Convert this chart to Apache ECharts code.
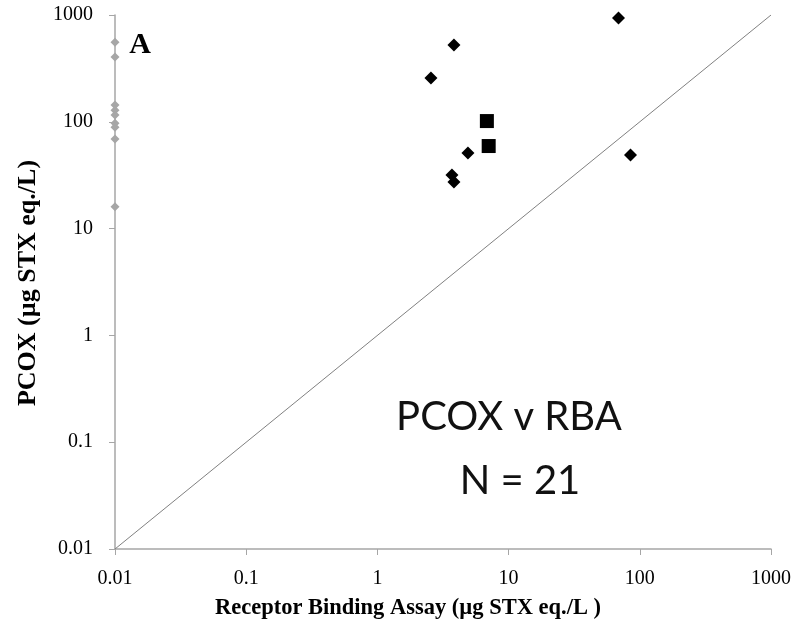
<!DOCTYPE html>
<html><head><meta charset="utf-8">
<script src="https://cdn.jsdelivr.net/npm/echarts@6/dist/echarts.min.js"></script>
<style>html,body{margin:0;padding:0;background:#fff}#c{width:794px;height:634px}</style>
</head><body><div id="c"></div>
<script>
const tickLabels = ['0.01','0.1','1','10','100','1000'];
const grayX = [0.01,0.01,0.01,0.01,0.01,0.01,0.01,0.01,0.01];
const grayY = [555,404,144,128,116,97,89,69,16];
const diamondX = [68.8,3.83,2.56,4.9,3.7,3.83,84.9];
const diamondY = [937,524,257,51,31.8,27.3,48.9];
const squareX = [6.83,7.05];
const squareY = [101.6,59.3];
const lineX = [0.01,1000];
const lineY = [0.01,1000];
const xTitle = 'Receptor Binding Assay (µg STX eq./L )';
const yTitle = 'PCOX (µg STX eq./L)';
const zip = (a,b)=>a.map((v,i)=>[v,b[i]]);
const serif = '"Liberation Serif","DejaVu Serif",serif';
const sans = 'Lato,"Open Sans",sans-serif';
const chart = echarts.init(document.getElementById('c'));
const axisCommon = {
  type:'log', logBase:10, min:0.01, max:1000,
  axisLine:{show:true,lineStyle:{color:'#a6a6a6',width:1.5}},
  axisTick:{show:true,inside:false,length:6,lineStyle:{color:'#a6a6a6'}},
  splitLine:{show:false}, minorTick:{show:false},
  axisLabel:{color:'#000',fontFamily:serif,fontSize:20,
    formatter:v=>{const i=Math.round(Math.log10(v))+2;return tickLabels[i]||'';}}
};
chart.setOption({
  animation:false,
  grid:{left:115,right:21,top:15,bottom:85,containLabel:false},
  xAxis:Object.assign({},axisCommon,{axisLabel:Object.assign({},axisCommon.axisLabel,{margin:20})}),
  yAxis:Object.assign({},axisCommon,{axisLabel:Object.assign({},axisCommon.axisLabel,{margin:22})}),
  series:[
    {type:'line',data:zip(lineX,lineY),symbol:'none',lineStyle:{color:'#808080',width:1},z:1},
    {type:'scatter',data:zip(grayX,grayY),symbol:'diamond',symbolSize:9,itemStyle:{color:'#a6a6a6',opacity:1},z:3},
    {type:'scatter',data:zip(diamondX,diamondY),symbol:'diamond',symbolSize:13,itemStyle:{color:'#000',opacity:1},z:4},
    {type:'scatter',data:zip(squareX,squareY),symbol:'rect',symbolSize:14,itemStyle:{color:'#000',opacity:1},z:4}
  ],
  graphic:[
    {type:'text',x:140,y:45,style:{text:'A',fontFamily:serif,fontSize:30,fontWeight:'bold',fill:'#000',align:'center',verticalAlign:'middle'}},
    {type:'text',x:408,y:608,style:{text:xTitle,fontFamily:serif,fontSize:22.5,fontWeight:'bold',fill:'#000',align:'center',verticalAlign:'middle'}},
    {type:'text',x:28,y:283,rotation:Math.PI/2,style:{text:yTitle,fontFamily:serif,fontSize:26,fontWeight:'bold',fill:'#000',align:'center',verticalAlign:'middle'}},
    {type:'text',x:509,y:417,style:{text:'PCOX v RBA',fontFamily:sans,fontSize:40,fill:'#111',align:'center',verticalAlign:'middle'}},
    {type:'text',x:520,y:481,style:{text:'N = 21',fontFamily:sans,fontSize:40,fill:'#111',align:'center',verticalAlign:'middle'}}
  ]
});
</script></body></html>
